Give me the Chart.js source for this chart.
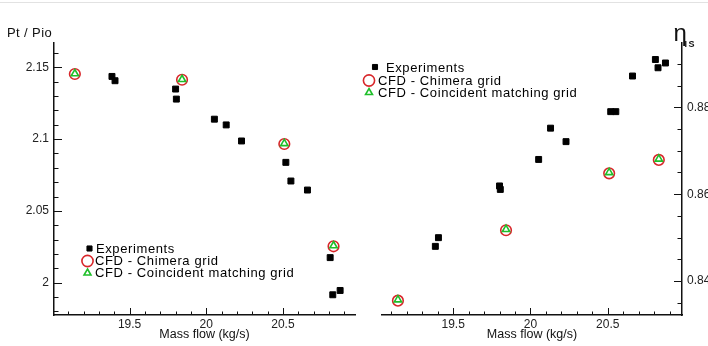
<!DOCTYPE html>
<html lang="en">
<head>
<meta charset="UTF-8">
<title>Pressure ratio and efficiency vs mass flow</title>
<script src="https://cdn.jsdelivr.net/npm/chart.js"></script>
<style>
  html, body { margin: 0; padding: 0; background: #fff; }
  body { width: 708px; height: 346px; position: relative; overflow: hidden; }
  #topline { position: absolute; left: 0; top: 2px; width: 708px; height: 1px; background: #e2e2e2; }
  #leftChart { position: absolute; left: 0; top: 0; }
  #rightChart { position: absolute; left: 362px; top: 0; }
</style>
</head>
<body>
<div id="topline"></div>
<canvas id="leftChart" width="362" height="346"></canvas>
<canvas id="rightChart" width="346" height="346"></canvas>
<script>
// experiments (same mass flow points on both panels)
const massExp = [19.385, 19.405, 19.80, 19.805, 20.053, 20.13, 20.23, 20.519, 20.552, 20.66, 20.808, 20.825, 20.873];
const ptExp   = [2.1437, 2.1407, 2.1349, 2.1279, 2.1139, 2.1099, 2.0987, 2.0838, 2.0708, 2.0645, 2.0174, 1.9915, 1.9945];
const etaExp  = [0.8480, 0.8500, 0.8619, 0.8611, 0.8680, 0.8752, 0.8721, 0.8790, 0.8790, 0.8872, 0.8910, 0.8891, 0.8902];

// CFD
const massCfd       = [19.143, 19.842, 20.509, 20.83];
const ptChimera     = [2.1454, 2.1414, 2.0966, 2.0253];
const ptCoincident  = [2.1456, 2.1416, 2.0969, 2.0257];
const etaChimera    = [0.8355, 0.8517, 0.8648, 0.8679];
const etaCoincident = [0.8357, 0.8519, 0.8650, 0.8681];

const seriesNames = ['Experiments', 'CFD - Chimera grid', 'CFD - Coincident matching grid'];

// tick labels
const xTicks     = [19.5, 20, 20.5];
const ptTicks    = [2, 2.05, 2.1, 2.15];
const etaTicks   = [0.84, 0.86, 0.88];

const FONT = '"Liberation Sans", Arial, Helvetica, sans-serif';
const INK = '#111';
const RED = '#d8262a';
const GREEN = '#1fbf2a';

function pts(xs, ys) { return xs.map((x, i) => ({ x: x, y: ys[i] })); }
function fmt(v) { return String(+(+v).toFixed(3)); }

function makeSets(ys0, ys1, ys2) {
  return [
    { label: seriesNames[0], data: pts(massExp, ys0), pointStyle: 'rect', pointRadius: 4.2, order: 2,
      backgroundColor: '#000', borderColor: '#000', borderWidth: 1, showLine: false },
    { label: seriesNames[1], data: pts(massCfd, ys1), pointStyle: 'circle', pointRadius: 5.3, order: 1,
      backgroundColor: '#fff', borderColor: RED, borderWidth: 1.6, showLine: false },
    { label: seriesNames[2], data: pts(massCfd, ys2), pointStyle: 'triangle', pointRadius: 4.2, order: 0,
      backgroundColor: '#fff', borderColor: GREEN, borderWidth: 1.6, showLine: false }
  ];
}

// inward major/minor ticks, axis titles and the in-plot legend
function decorPlugin(cfg) {
  return {
    id: 'decor',
    afterDraw(chart) {
      const ctx = chart.ctx, a = chart.chartArea;
      const xs = chart.scales.x, ys = chart.scales.y;
      ctx.save();
      ctx.strokeStyle = INK;
      ctx.lineWidth = 1;
      // x ticks
      for (let v = Math.ceil(xs.min * 10 - 1e-6) / 10; v <= xs.max + 1e-9; v += 0.1) {
        const px = Math.round(xs.getPixelForValue(v)) + 0.5;
        const major = xTicks.some(t => Math.abs(t - v) < 1e-6);
        ctx.beginPath();
        ctx.moveTo(px, a.bottom);
        ctx.lineTo(px, a.bottom - (major ? 7 : 3.5));
        ctx.stroke();
      }
      // y ticks
      const step = cfg.yMinor;
      for (let k = Math.ceil(ys.min / step - 1e-6); k * step <= ys.max + 1e-9; k++) {
        const v = k * step;
        const py = Math.round(ys.getPixelForValue(v)) + 0.5;
        const major = cfg.yMajor.some(t => Math.abs(t - v) < 1e-6);
        const len = major ? 8 : 4.5;
        const x0 = cfg.yRight ? a.right : a.left;
        ctx.beginPath();
        ctx.moveTo(x0, py);
        ctx.lineTo(cfg.yRight ? x0 - len : x0 + len, py);
        ctx.stroke();
      }
      // axis titles
      ctx.fillStyle = INK;
      ctx.textBaseline = 'alphabetic';
      ctx.font = '12.5px ' + FONT;
      ctx.textAlign = 'center';
      ctx.fillText('Mass flow (kg/s)', (a.left + a.right) / 2, 338);
      cfg.drawYTitle(ctx, a);
      // legend
      ctx.font = '13px ' + FONT;
      ctx.letterSpacing = '0.6px';
      ctx.textAlign = 'left';
      const H = Chart.helpers;
      cfg.legend.forEach((row, i) => {
        const ds = chart.data.datasets[i];
        ctx.fillStyle = i === 0 ? '#000' : '#fff';
        ctx.strokeStyle = ds.borderColor;
        ctx.lineWidth = ds.borderWidth;
        H.drawPoint(ctx, { pointStyle: ds.pointStyle, radius: row.r, borderWidth: ds.borderWidth, rotation: 0 }, row.mx, row.my);
        ctx.fillStyle = '#000';
        ctx.fillText(ds.label, row.tx, row.ty);
      });
      ctx.restore();
    }
  };
}

function axes(xMin, xMax, yMin, yMax, yTicks, yRight) {
  const border = { display: true, color: INK, width: 1.5 };
  const grid = { display: false, drawTicks: false, tickLength: 0 };
  return {
    x: {
      type: 'linear', min: xMin, max: xMax,
      grid: grid, border: border,
      afterBuildTicks: s => { s.ticks = xTicks.map(v => ({ value: v })); },
      afterFit: s => { s.height = 31; },
      ticks: { autoSkip: false, maxRotation: 0, padding: 2, color: '#222',
               font: { family: FONT, size: 12 }, callback: fmt }
    },
    y: {
      type: 'linear', min: yMin, max: yMax, position: yRight ? 'right' : 'left',
      grid: grid, border: border,
      afterBuildTicks: s => { s.ticks = yTicks.map(v => ({ value: v })); },
      afterFit: s => { s.width = yRight ? 26 : 54; },
      ticks: { autoSkip: false, padding: 5, color: '#222',
               font: { family: FONT, size: 12 }, callback: fmt }
    }
  };
}

function baseOptions(pad, scales) {
  return {
    responsive: false, animation: false, devicePixelRatio: 1,
    layout: { padding: pad },
    plugins: { legend: { display: false }, tooltip: { enabled: false } },
    scales: scales
  };
}

new Chart(document.getElementById('leftChart'), {
  type: 'scatter',
  data: { datasets: makeSets(ptExp, ptChimera, ptCoincident) },
  options: baseOptions({ top: 43, right: 7, bottom: 0, left: 0 },
                       axes(19.007, 20.97, 1.9774, 2.167, ptTicks, false)),
  plugins: [decorPlugin({
    yMinor: 0.01, yMajor: ptTicks, yRight: false,
    drawYTitle(ctx) {
      ctx.textAlign = 'left';
      ctx.font = '13px ' + FONT;
      ctx.letterSpacing = '0.4px';
      ctx.fillText('Pt / Pio', 7, 37);
      ctx.letterSpacing = '0px';
    },
    legend: [
      { mx: 89.5, my: 248.5, r: 3.6, tx: 96, ty: 253 },
      { mx: 87.5, my: 261, r: 5.6, tx: 95, ty: 265 },
      { mx: 87.5, my: 273, r: 4, tx: 95, ty: 277 }
    ]
  })]
});

new Chart(document.getElementById('rightChart'), {
  type: 'scatter',
  data: { datasets: makeSets(etaExp, etaChimera, etaCoincident) },
  options: baseOptions({ top: 43, right: 0, bottom: 0, left: 20 },
                       axes(19.04, 20.98, 0.8322, 0.8948, etaTicks, true)),
  plugins: [decorPlugin({
    yMinor: 0.005, yMajor: etaTicks, yRight: true,
    drawYTitle(ctx, a) {
      ctx.textAlign = 'left';
      ctx.font = '24px ' + FONT;
      ctx.fillText('\u03B7', a.right - 8.5, 40.5);
      ctx.font = 'bold 9px ' + FONT;
      ctx.letterSpacing = '1.5px';
      ctx.fillText('IS', a.right + 2.5, 46.5);
      ctx.letterSpacing = '0px';
    },
    legend: [
      { mx: 375, my: 67, r: 3.6, tx: 386, ty: 71.5 },
      { mx: 369, my: 80.5, r: 5.6, tx: 378, ty: 84.5 },
      { mx: 369, my: 92.5, r: 4, tx: 378, ty: 97 }
    ].map(r => ({ mx: r.mx - 362, my: r.my, r: r.r, tx: r.tx - 362, ty: r.ty }))
  })]
});
</script>
</body>
</html>
